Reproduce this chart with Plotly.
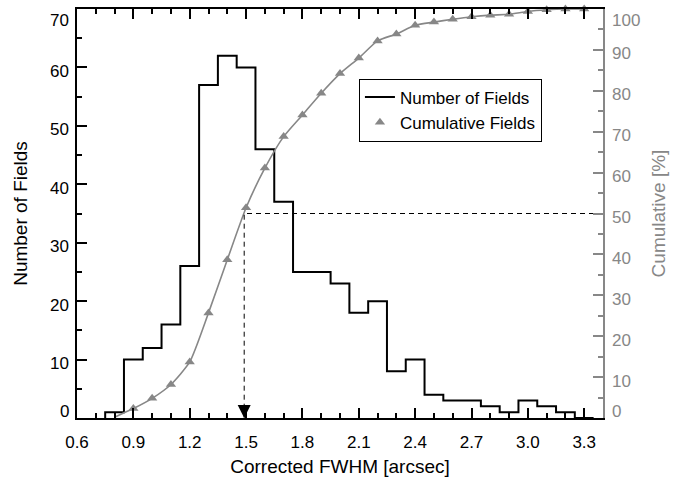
import plotly.graph_objects as go
import numpy as np

# ---- data ----
bin_centers = [0.8, 0.9, 1.0, 1.1, 1.2, 1.3, 1.4, 1.5, 1.6, 1.7, 1.8, 1.9, 2.0,
               2.1, 2.2, 2.3, 2.4, 2.5, 2.6, 2.7, 2.8, 2.9, 3.0, 3.1, 3.2, 3.3]
n_fields = [1, 10, 12, 16, 26, 57, 62, 60, 46, 37, 25, 25, 23,
            18, 20, 8, 10, 4, 3, 3, 2, 1, 3, 2, 1, 0]
cumulative_pct = [0.2, 2.3, 4.8, 8.2, 13.7, 25.7, 38.7, 51.4, 61.1, 68.8, 74.1, 79.4, 84.2,
                  88.0, 92.2, 93.9, 96.0, 96.8, 97.5, 98.1, 98.5, 98.7, 99.4, 99.8, 100.0, 100.0]
bin_width = 0.1
median_fwhm = 1.49
median_level = 50
x_tick_labels = ["0.6", "0.9", "1.2", "1.5", "1.8", "2.1", "2.4", "2.7", "3.0", "3.3"]
left_ticks = [0, 10, 20, 30, 40, 50, 60, 70]
right_ticks = [0, 10, 20, 30, 40, 50, 60, 70, 80, 90, 100]

GRAY = "#878787"
FONT = "Liberation Sans, Arial, Helvetica, sans-serif"
TICK_SIZE = 17

# build the histogram outline (steps) from the bin data
c = np.array(bin_centers)
edges = np.append(c - bin_width / 2, c[-1] + bin_width / 2)
step_x = np.repeat(edges, 2)
step_y = np.concatenate([[0], np.repeat(n_fields, 2), [0]])

fig = go.Figure()

fig.add_trace(go.Scatter(
    x=step_x, y=step_y, mode="lines", name="Number of Fields",
    line=dict(color="black", width=2), yaxis="y", showlegend=True,
))

# cumulative line (smooth) and markers
fig.add_trace(go.Scatter(
    x=bin_centers, y=cumulative_pct, mode="lines", yaxis="y2",
    line=dict(color=GRAY, width=1.6, shape="spline", smoothing=0.6),
    showlegend=False, hoverinfo="skip",
))
fig.add_trace(go.Scatter(
    x=bin_centers[1:], y=cumulative_pct[1:], mode="markers", yaxis="y2",
    name="Cumulative Fields",
    marker=dict(symbol="triangle-up", size=9, color=GRAY),
    cliponaxis=False,
))

# median dashed guides
fig.add_trace(go.Scatter(
    x=[3.4, median_fwhm, median_fwhm], y=[median_level, median_level, 0],
    mode="lines", yaxis="y2", line=dict(color="black", width=1, dash="5px,4px"),
    showlegend=False, hoverinfo="skip",
))
fig.add_trace(go.Scatter(
    x=[median_fwhm], y=[0], mode="markers", yaxis="y2",
    marker=dict(symbol="arrow-down", size=13, color="black"),
    showlegend=False, cliponaxis=False, hoverinfo="skip",
))

# y tick labels (end labels kept inside the frame, as in the reference)
annotations = []
def anchor_for(i, n):
    if i == 0:
        return "bottom", -5
    if i == n - 1:
        return "top", 0
    return "middle", -4

for i, v in enumerate(left_ticks):
    ya, ys = anchor_for(i, len(left_ticks))
    annotations.append(dict(
        x=0, xref="paper", y=v, yref="y", text=str(v), showarrow=False,
        xanchor="right", yanchor=ya, yshift=ys, xshift=-6,
        font=dict(size=TICK_SIZE, color="black", family=FONT),
    ))
for i, v in enumerate(right_ticks):
    ya, ys = anchor_for(i, len(right_ticks))
    annotations.append(dict(
        x=1, xref="paper", y=v, yref="y2", text=str(v), showarrow=False,
        xanchor="left", yanchor=ya, yshift=ys, xshift=7,
        font=dict(size=TICK_SIZE, color=GRAY, family=FONT),
    ))

fig.update_layout(
    width=696, height=489,
    margin=dict(l=77, r=93, t=9, b=71),
    paper_bgcolor="white", plot_bgcolor="white",
    font=dict(family=FONT, size=TICK_SIZE, color="black"),
    showlegend=True,
    annotations=annotations,
    legend=dict(
        x=0.536, y=0.83, xanchor="left", yanchor="top",
        bordercolor="black", borderwidth=1, bgcolor="white",
        font=dict(size=17, family=FONT),
        tracegroupgap=4,
    ),
    xaxis=dict(
        range=[0.6, 3.4], showgrid=False, zeroline=False, automargin=False,
        showline=True, linecolor="black", linewidth=2, mirror="ticks",
        ticks="inside", ticklen=10, tickwidth=1.5, tickcolor="black",
        tickvals=[0.6 + 0.3 * i for i in range(len(x_tick_labels))],
        ticktext=x_tick_labels,
        minor=dict(ticks="inside", ticklen=5, tickwidth=1.5, dtick=0.1, tick0=0.6, tickcolor="black"),
        ticklabelstandoff=8,
        title=dict(text="Corrected FWHM [arcsec]", font=dict(size=19), standoff=8),
    ),
    yaxis=dict(
        range=[0, 70], showgrid=False, zeroline=False, automargin=False,
        showline=True, linecolor="black", linewidth=2,
        ticks="inside", ticklen=10, tickwidth=1.5, tickcolor="black",
        dtick=10, tick0=0, showticklabels=False,
        minor=dict(ticks="inside", ticklen=5, tickwidth=1.5, dtick=5, tickcolor="black"),
        title=dict(text="Number of Fields", font=dict(size=19), standoff=42),
    ),
    yaxis2=dict(
        range=[0, 100], overlaying="y", side="right", anchor="x", automargin=False,
        showgrid=False, zeroline=False,
        showline=True, linecolor=GRAY, linewidth=2,
        ticks="inside", ticklen=10, tickwidth=1.5, tickcolor=GRAY,
        dtick=10, tick0=0, showticklabels=False,
        minor=dict(ticks="inside", ticklen=5, tickwidth=1.5, dtick=5, tickcolor=GRAY),
        title=dict(text="Cumulative [%]", font=dict(size=19, color=GRAY), standoff=48),
    ),
)

fig.write_html("out.html")
